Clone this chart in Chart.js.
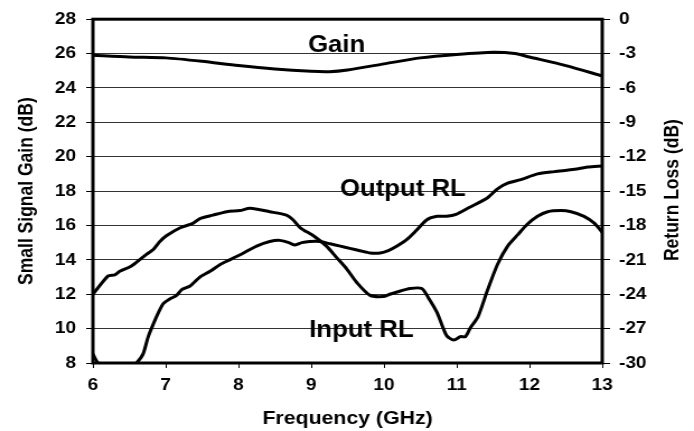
<!DOCTYPE html>
<html>
<head>
<meta charset="utf-8">
<script src="https://cdn.jsdelivr.net/npm/chart.js@4/dist/chart.umd.min.js"></script>
<style>
  html, body { margin: 0; padding: 0; background: #fff; overflow: hidden; }
  #chart { display: block; transform: scaleX(1.1194); transform-origin: 0 0; }
</style>
</head>
<body>
<canvas id="chart" width="620" height="431"></canvas>
<script>
// frequency (GHz) / value pairs
var gainFreq = [6.0, 6.5, 7.0, 7.5, 8.0, 8.5, 9.0, 9.25, 9.5, 10.0, 10.5, 11.0, 11.5, 11.8, 12.0, 12.5, 13.0];
var gainDb = [25.9, 25.8, 25.75, 25.55, 25.3, 25.1, 24.97, 24.95, 25.05, 25.4, 25.75, 25.95, 26.08, 26.0, 25.8, 25.3, 24.7];

var inputFreq = [6.0, 6.21, 6.3, 6.37, 6.51, 6.6, 6.74, 6.83, 6.92, 7.01, 7.2, 7.38, 7.47, 7.65, 7.84, 8.02, 8.16, 8.43, 8.66, 8.75,
  8.85, 9.03, 9.21, 9.35, 9.49, 9.63, 9.81, 9.99, 10.08, 10.18, 10.36, 10.52, 10.61, 10.73, 10.86, 10.96, 11.05, 11.12, 11.19, 11.29,
  11.42, 11.56, 11.7, 11.84, 11.97, 12.11, 12.25, 12.43, 12.57, 12.75, 12.89, 13.0];
var inputRl = [-24.0, -22.4, -22.3, -22.0, -21.6, -21.2, -20.5, -20.1, -19.4, -18.9, -18.2, -17.8, -17.4, -17.1, -16.8, -16.7, -16.5, -16.8, -17.1, -17.5,
  -18.2, -18.9, -19.8, -20.8, -21.8, -23.0, -24.1, -24.2, -24.0, -23.8, -23.5, -23.5, -24.3, -25.6, -27.6, -28.0, -27.7, -27.7, -26.9, -26.0,
  -23.7, -21.4, -19.8, -18.8, -17.9, -17.2, -16.8, -16.7, -16.8, -17.2, -17.8, -18.6];

var outputFreq = [6.0, 6.07, 6.3, 6.45, 6.6, 6.69, 6.76, 6.83, 6.9, 6.97, 7.06, 7.15, 7.22, 7.33, 7.47, 7.61, 7.75, 7.88, 8.07, 8.25,
  8.43, 8.57, 8.69, 8.78, 8.87, 8.98, 9.12, 9.26, 9.4, 9.53, 9.67, 9.81, 9.95, 10.06, 10.18, 10.32, 10.45, 10.59, 10.73, 10.86,
  11.0, 11.15, 11.42, 11.56, 11.7, 11.88, 12.11, 12.34, 12.62, 12.8, 13.0];
var outputRl = [-29.2, -30.0, -31.0, -31.0, -30.0, -29.2, -27.7, -26.6, -25.6, -24.8, -24.4, -24.1, -23.6, -23.3, -22.5, -22.0, -21.4, -21.0, -20.4, -19.8,
  -19.4, -19.3, -19.5, -19.7, -19.5, -19.4, -19.4, -19.6, -19.8, -20.0, -20.2, -20.4, -20.4, -20.2, -19.8, -19.2, -18.4, -17.5, -17.2, -17.2,
  -17.0, -16.5, -15.6, -14.8, -14.3, -14.0, -13.5, -13.3, -13.1, -12.9, -12.8];

// curve labels (text, x in GHz, y value, axis)
var curveLabels = [
  { text: "Gain", x: 9.35, y: 26.47, axis: "y" },
  { text: "Output RL", x: 10.26, y: -14.9, axis: "y2" },
  { text: "Input RL", x: 9.69, y: -27.2, axis: "y2" }
];

var fontFamily = "Arial, 'Liberation Sans', sans-serif";

function points(xs, ys) {
  var out = [];
  for (var i = 0; i < xs.length; i++) out.push({ x: xs[i], y: ys[i] });
  return out;
}

function lineSet(label, data, axis) {
  return {
    label: label,
    data: data,
    yAxisID: axis,
    borderColor: "#000",
    borderWidth: 3,
    pointRadius: 0,
    tension: 0.25,
    fill: false,
    clip: 0
  };
}

var framePlugin = {
  id: "frame",
  afterDatasetsDraw: function (chart) {
    var a = chart.chartArea;
    var ctx = chart.ctx;
    ctx.save();
    ctx.strokeStyle = "#000";
    ctx.lineWidth = 3;
    ctx.strokeRect(a.left, a.top, a.right - a.left, a.bottom - a.top);
    ctx.restore();
  }
};

var labelPlugin = {
  id: "curveLabels",
  afterDraw: function (chart) {
    var ctx = chart.ctx;
    ctx.save();
    ctx.fillStyle = "#000";
    ctx.font = "bold 23px " + fontFamily;
    ctx.textAlign = "center";
    ctx.textBaseline = "middle";
    curveLabels.forEach(function (l) {
      var px = chart.scales.x.getPixelForValue(l.x);
      var py = chart.scales[l.axis].getPixelForValue(l.y);
      ctx.fillText(l.text, px, py);
    });

    // right axis title, reads bottom to top like the left one
    var a = chart.chartArea;
    ctx.font = "bold 17.5px " + fontFamily;
    ctx.translate(chart.width - 19, (a.top + a.bottom) / 2 - 1);
    ctx.rotate(-Math.PI / 2);
    ctx.fillText("Return Loss (dB)", 0, 0);
    ctx.restore();
  }
};

var tickFont = { family: fontFamily, size: 17, weight: "bold" };
var titleFont = { family: fontFamily, size: 17.5, weight: "bold" };

var ctx = document.getElementById("chart");
var chart = new Chart(ctx, {
  type: "line",
  data: {
    datasets: [
      lineSet("Gain", points(gainFreq, gainDb), "y"),
      lineSet("Output RL", points(outputFreq, outputRl), "y2"),
      lineSet("Input RL", points(inputFreq, inputRl), "y2")
    ]
  },
  options: {
    responsive: false,
    animation: false,
    devicePixelRatio: 1,
    layout: { padding: { top: 16, left: 0, right: 0, bottom: 0 } },
    plugins: {
      legend: { display: false },
      tooltip: { enabled: false }
    },
    scales: {
      x: {
        type: "linear",
        min: 6,
        max: 13,
        ticks: { stepSize: 1, color: "#000", font: tickFont, padding: 7, maxRotation: 0 },
        grid: { drawOnChartArea: false, drawTicks: true, tickLength: 5, tickColor: "#000", lineWidth: 1 },
        border: { display: false },
        title: { display: true, text: "Frequency (GHz)", color: "#000", font: { family: fontFamily, size: 19, weight: "bold" }, padding: { top: 0, bottom: 1 } },
        afterFit: function (s) { s.height = 68; }
      },
      y: {
        position: "left",
        min: 8,
        max: 28,
        ticks: { stepSize: 2, color: "#000", font: tickFont, padding: 9 },
        grid: { color: "#333", lineWidth: 1, tickLength: 6, tickColor: "#000" },
        border: { display: false },
        title: { display: true, text: "Small Signal Gain (dB)", color: "#000", font: titleFont, padding: { top: 14, bottom: 0 } },
        afterFit: function (s) { s.width = 83; }
      },
      y2: {
        position: "right",
        min: -30,
        max: 0,
        ticks: { stepSize: 3, color: "#000", font: tickFont, padding: 8 },
        grid: { drawOnChartArea: false, tickLength: 7, tickColor: "#000", lineWidth: 1 },
        border: { display: false },
        title: { display: false },
        afterFit: function (s) { s.width = 82; }
      }
    }
  },
  plugins: [framePlugin, labelPlugin]
});
</script>
</body>
</html>
